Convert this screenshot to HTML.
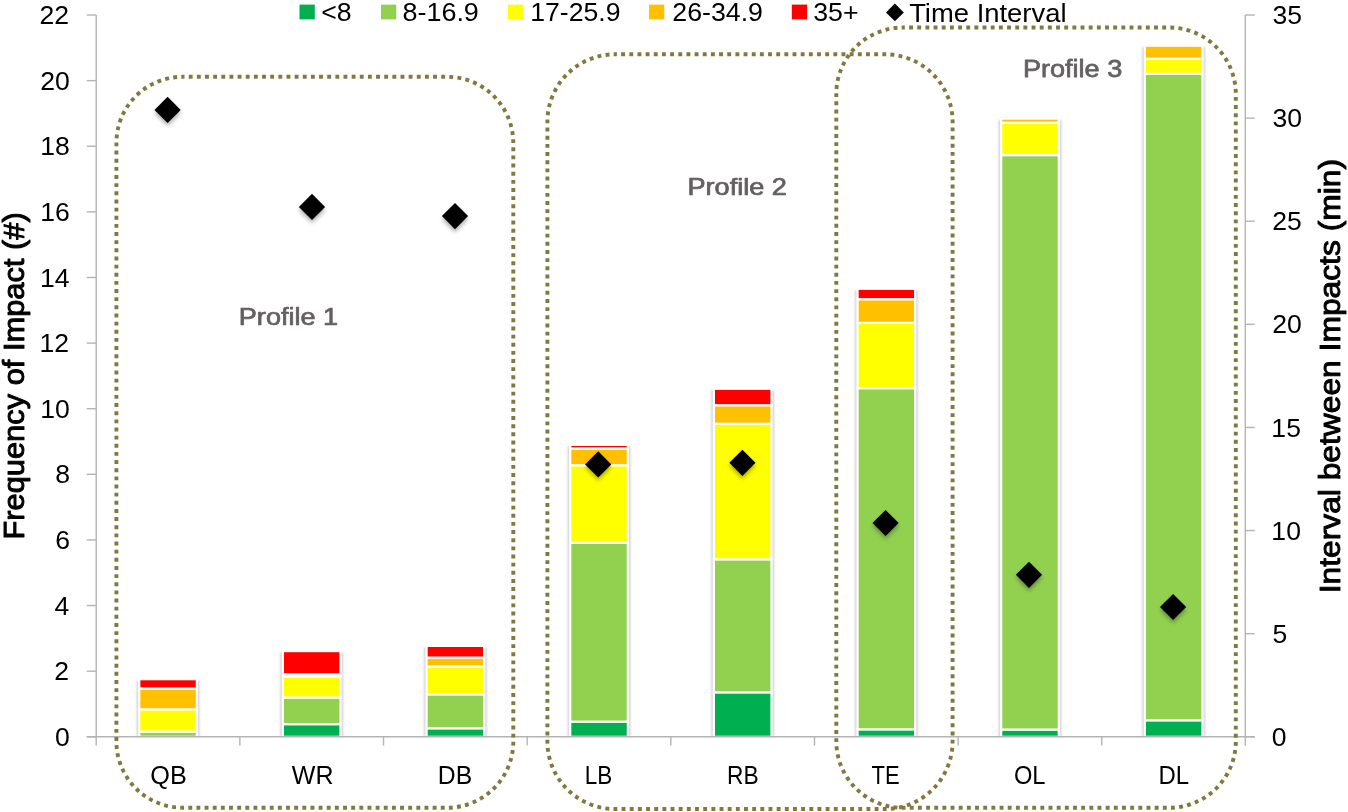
<!DOCTYPE html>
<html><head><meta charset="utf-8"><title>Impact frequency chart</title>
<style>
html,body{margin:0;padding:0;background:#fff;}
body{width:1348px;height:812px;overflow:hidden;}
svg{display:block;font-family:"Liberation Sans", sans-serif;will-change:transform;}
</style></head><body>
<svg width="1348" height="812" viewBox="0 0 1348 812">
<defs>
<filter id="dsh" x="-50%" y="-50%" width="200%" height="200%">
<feGaussianBlur in="SourceAlpha" stdDeviation="2.2"/>
<feOffset dx="0.4" dy="3.2" result="b"/>
<feComponentTransfer><feFuncA type="linear" slope="0.32"/></feComponentTransfer>
<feMerge><feMergeNode/><feMergeNode in="SourceGraphic"/></feMerge>
</filter>
<filter id="bsh" x="-20%" y="-5%" width="140%" height="110%">
<feGaussianBlur stdDeviation="0.8"/>
</filter>
<filter id="soft" x="-5%" y="-5%" width="110%" height="110%">
<feGaussianBlur stdDeviation="0.45"/>
</filter>
</defs>
<rect width="1348" height="812" fill="#fff"/>

<rect x="136.65" y="680.40" width="62.80" height="56.40" fill="#D3D3D6" filter="url(#bsh)"/>
<rect x="139.25" y="731.65" width="57.60" height="5.15" fill="#92D050" stroke="#fff" stroke-width="2.2"/>
<rect x="139.25" y="709.35" width="57.60" height="22.30" fill="#FFFF00" stroke="#fff" stroke-width="2.2"/>
<rect x="139.25" y="688.50" width="57.60" height="20.85" fill="#FFC000" stroke="#fff" stroke-width="2.2"/>
<rect x="139.25" y="679.20" width="57.60" height="9.30" fill="#FF0000" stroke="#fff" stroke-width="2.2"/>
<rect x="280.31" y="652.30" width="62.80" height="84.50" fill="#D3D3D6" filter="url(#bsh)"/>
<rect x="282.91" y="724.15" width="57.60" height="12.65" fill="#00B050" stroke="#fff" stroke-width="2.2"/>
<rect x="282.91" y="697.55" width="57.60" height="26.60" fill="#92D050" stroke="#fff" stroke-width="2.2"/>
<rect x="282.91" y="676.50" width="57.60" height="21.05" fill="#FFFF00" stroke="#fff" stroke-width="2.2"/>
<rect x="282.91" y="674.30" width="57.60" height="2.20" fill="#FFC000" stroke="#fff" stroke-width="2.2"/>
<rect x="282.91" y="651.10" width="57.60" height="23.20" fill="#FF0000" stroke="#fff" stroke-width="2.2"/>
<rect x="423.97" y="647.10" width="62.80" height="89.70" fill="#D3D3D6" filter="url(#bsh)"/>
<rect x="426.57" y="728.30" width="57.60" height="8.50" fill="#00B050" stroke="#fff" stroke-width="2.2"/>
<rect x="426.57" y="694.35" width="57.60" height="33.95" fill="#92D050" stroke="#fff" stroke-width="2.2"/>
<rect x="426.57" y="666.40" width="57.60" height="27.95" fill="#FFFF00" stroke="#fff" stroke-width="2.2"/>
<rect x="426.57" y="657.60" width="57.60" height="8.80" fill="#FFC000" stroke="#fff" stroke-width="2.2"/>
<rect x="426.57" y="645.90" width="57.60" height="11.70" fill="#FF0000" stroke="#fff" stroke-width="2.2"/>
<rect x="567.63" y="446.10" width="62.80" height="290.70" fill="#D3D3D6" filter="url(#bsh)"/>
<rect x="570.23" y="721.65" width="57.60" height="15.15" fill="#00B050" stroke="#fff" stroke-width="2.2"/>
<rect x="570.23" y="542.75" width="57.60" height="178.90" fill="#92D050" stroke="#fff" stroke-width="2.2"/>
<rect x="570.23" y="465.25" width="57.60" height="77.50" fill="#FFFF00" stroke="#fff" stroke-width="2.2"/>
<rect x="570.23" y="448.45" width="57.60" height="16.80" fill="#FFC000" stroke="#fff" stroke-width="2.2"/>
<rect x="570.23" y="444.90" width="57.60" height="3.50" fill="#FF0000" stroke="#fff" stroke-width="2.2"/>
<rect x="711.29" y="390.00" width="62.80" height="346.80" fill="#D3D3D6" filter="url(#bsh)"/>
<rect x="713.89" y="692.35" width="57.60" height="44.45" fill="#00B050" stroke="#fff" stroke-width="2.2"/>
<rect x="713.89" y="559.30" width="57.60" height="133.05" fill="#92D050" stroke="#fff" stroke-width="2.2"/>
<rect x="713.89" y="423.75" width="57.60" height="135.55" fill="#FFFF00" stroke="#fff" stroke-width="2.2"/>
<rect x="713.89" y="405.25" width="57.60" height="18.50" fill="#FFC000" stroke="#fff" stroke-width="2.2"/>
<rect x="713.89" y="388.80" width="57.60" height="16.45" fill="#FF0000" stroke="#fff" stroke-width="2.2"/>
<rect x="854.95" y="290.00" width="62.80" height="446.80" fill="#D3D3D6" filter="url(#bsh)"/>
<rect x="857.55" y="729.35" width="57.60" height="7.45" fill="#00B050" stroke="#fff" stroke-width="2.2"/>
<rect x="857.55" y="388.15" width="57.60" height="341.20" fill="#92D050" stroke="#fff" stroke-width="2.2"/>
<rect x="857.55" y="322.90" width="57.60" height="65.25" fill="#FFFF00" stroke="#fff" stroke-width="2.2"/>
<rect x="857.55" y="299.20" width="57.60" height="23.70" fill="#FFC000" stroke="#fff" stroke-width="2.2"/>
<rect x="857.55" y="288.80" width="57.60" height="10.40" fill="#FF0000" stroke="#fff" stroke-width="2.2"/>
<rect x="998.61" y="119.80" width="62.80" height="617.00" fill="#D3D3D6" filter="url(#bsh)"/>
<rect x="1001.21" y="729.55" width="57.60" height="7.25" fill="#00B050" stroke="#fff" stroke-width="2.2"/>
<rect x="1001.21" y="155.10" width="57.60" height="574.45" fill="#92D050" stroke="#fff" stroke-width="2.2"/>
<rect x="1001.21" y="122.70" width="57.60" height="32.40" fill="#FFFF00" stroke="#fff" stroke-width="2.2"/>
<rect x="1001.21" y="118.60" width="57.60" height="4.10" fill="#FFC000" stroke="#fff" stroke-width="2.2"/>
<rect x="1142.27" y="46.90" width="62.80" height="689.90" fill="#D3D3D6" filter="url(#bsh)"/>
<rect x="1144.87" y="720.30" width="57.60" height="16.50" fill="#00B050" stroke="#fff" stroke-width="2.2"/>
<rect x="1144.87" y="73.85" width="57.60" height="646.45" fill="#92D050" stroke="#fff" stroke-width="2.2"/>
<rect x="1144.87" y="58.80" width="57.60" height="15.05" fill="#FFFF00" stroke="#fff" stroke-width="2.2"/>
<rect x="1144.87" y="45.70" width="57.60" height="13.10" fill="#FFC000" stroke="#fff" stroke-width="2.2"/>
<g stroke="#B4B4B4" stroke-width="1.4" fill="none">
<line x1="96.2" y1="15.0" x2="96.2" y2="745.5999999999999"/>
<line x1="1245.3" y1="15.0" x2="1245.3" y2="745.5999999999999"/>
<line x1="86.7" y1="736.8" x2="1254.8" y2="736.8"/>
<line x1="86.7" y1="736.80" x2="96.2" y2="736.80"/>
<line x1="86.7" y1="671.18" x2="96.2" y2="671.18"/>
<line x1="86.7" y1="605.56" x2="96.2" y2="605.56"/>
<line x1="86.7" y1="539.95" x2="96.2" y2="539.95"/>
<line x1="86.7" y1="474.33" x2="96.2" y2="474.33"/>
<line x1="86.7" y1="408.71" x2="96.2" y2="408.71"/>
<line x1="86.7" y1="343.09" x2="96.2" y2="343.09"/>
<line x1="86.7" y1="277.47" x2="96.2" y2="277.47"/>
<line x1="86.7" y1="211.85" x2="96.2" y2="211.85"/>
<line x1="86.7" y1="146.24" x2="96.2" y2="146.24"/>
<line x1="86.7" y1="80.62" x2="96.2" y2="80.62"/>
<line x1="86.7" y1="15.00" x2="96.2" y2="15.00"/>
<line x1="1245.3" y1="736.80" x2="1254.8" y2="736.80"/>
<line x1="1245.3" y1="633.69" x2="1254.8" y2="633.69"/>
<line x1="1245.3" y1="530.57" x2="1254.8" y2="530.57"/>
<line x1="1245.3" y1="427.46" x2="1254.8" y2="427.46"/>
<line x1="1245.3" y1="324.34" x2="1254.8" y2="324.34"/>
<line x1="1245.3" y1="221.23" x2="1254.8" y2="221.23"/>
<line x1="1245.3" y1="118.11" x2="1254.8" y2="118.11"/>
<line x1="1245.3" y1="15.00" x2="1254.8" y2="15.00"/>
<line x1="239.86" y1="736.8" x2="239.86" y2="745.5999999999999"/>
<line x1="383.52" y1="736.8" x2="383.52" y2="745.5999999999999"/>
<line x1="527.18" y1="736.8" x2="527.18" y2="745.5999999999999"/>
<line x1="670.84" y1="736.8" x2="670.84" y2="745.5999999999999"/>
<line x1="814.50" y1="736.8" x2="814.50" y2="745.5999999999999"/>
<line x1="958.16" y1="736.8" x2="958.16" y2="745.5999999999999"/>
<line x1="1101.82" y1="736.8" x2="1101.82" y2="745.5999999999999"/>
</g>
<g fill="#000" filter="url(#dsh)">
<path d="M167.60 96.80L180.70 109.90L167.60 123.00L154.50 109.90Z"/>
<path d="M312.00 193.80L325.10 206.90L312.00 220.00L298.90 206.90Z"/>
<path d="M455.00 203.00L468.10 216.10L455.00 229.20L441.90 216.10Z"/>
<path d="M598.20 451.30L611.30 464.40L598.20 477.50L585.10 464.40Z"/>
<path d="M742.40 449.70L755.50 462.80L742.40 475.90L729.30 462.80Z"/>
<path d="M885.60 509.90L898.70 523.00L885.60 536.10L872.50 523.00Z"/>
<path d="M1029.00 561.70L1042.10 574.80L1029.00 587.90L1015.90 574.80Z"/>
<path d="M1173.10 593.90L1186.20 607.00L1173.10 620.10L1160.00 607.00Z"/>
</g>
<g fill="none" stroke="#837940" stroke-width="3.9" filter="url(#soft)">
<rect x="116.4" y="76.8" width="396.90" height="730.90" rx="66.15" ry="66.15" stroke-dasharray="3.9 4.2446" stroke-dashoffset="1.95"/>
<rect x="547.4" y="54.3" width="405.20" height="754.70" rx="67.53" ry="67.53" stroke-dasharray="3.9 4.2624" stroke-dashoffset="1.95"/>
<rect x="836.3" y="27.5" width="399.50" height="780.30" rx="66.58" ry="66.58" stroke-dasharray="3.9 4.2647" stroke-dashoffset="1.95"/>
</g>
<g>
<text x="54.88" y="745.90" font-size="26.57">0</text>
<text x="54.20" y="680.28" font-size="26.57">2</text>
<text x="54.62" y="614.66" font-size="26.57">4</text>
<text x="55.15" y="549.05" font-size="26.57">6</text>
<text x="55.15" y="483.43" font-size="26.57">8</text>
<text x="40.27" y="417.81" font-size="26.57">10</text>
<text x="39.58" y="352.19" font-size="26.57">12</text>
<text x="40.00" y="286.57" font-size="26.57">14</text>
<text x="40.27" y="220.95" font-size="26.57">16</text>
<text x="40.27" y="155.34" font-size="26.57">18</text>
<text x="40.27" y="89.72" font-size="26.57">20</text>
<text x="39.58" y="24.10" font-size="26.57">22</text>
<text x="1271.84" y="745.90" font-size="26.57">0</text>
<text x="1272.44" y="642.79" font-size="26.57">5</text>
<text x="1271.37" y="539.67" font-size="26.57">10</text>
<text x="1271.37" y="436.56" font-size="26.57">15</text>
<text x="1272.17" y="333.44" font-size="26.57">20</text>
<text x="1272.17" y="230.33" font-size="26.57">25</text>
<text x="1272.44" y="127.21" font-size="26.57">30</text>
<text x="1272.44" y="24.10" font-size="26.57">35</text>
</g>
<text transform="translate(150.34 784.40) scale(0.9644 1)" font-size="26.23" fill="#000">QB</text>
<text transform="translate(291.75 784.40) scale(0.9554 1)" font-size="26.23" fill="#000">WR</text>
<text transform="translate(437.82 784.40) scale(0.9440 1)" font-size="26.23" fill="#000">DB</text>
<text transform="translate(584.70 784.40) scale(0.8569 1)" font-size="26.23" fill="#000">LB</text>
<text transform="translate(726.98 784.40) scale(0.8683 1)" font-size="26.23" fill="#000">RB</text>
<text transform="translate(871.46 784.40) scale(0.8380 1)" font-size="26.23" fill="#000">TE</text>
<text transform="translate(1013.92 784.40) scale(0.9027 1)" font-size="26.23" fill="#000">OL</text>
<text transform="translate(1158.39 784.40) scale(0.9123 1)" font-size="26.23" fill="#000">DL</text>
<text transform="translate(238.81 324.90) scale(1.1038 1)" font-size="24.53" stroke="#645F60" stroke-width="0.75" stroke-linejoin="round" fill="#645F60">Profile 1</text>
<text transform="translate(687.50 194.90) scale(1.0997 1)" font-size="24.67" stroke="#645F60" stroke-width="0.75" stroke-linejoin="round" fill="#645F60">Profile 2</text>
<text transform="translate(1022.91 77.20) scale(1.0910 1)" font-size="24.82" stroke="#645F60" stroke-width="0.75" stroke-linejoin="round" fill="#645F60">Profile 3</text>
<text transform="translate(24.20 539.59) rotate(-90) scale(1.0501 1)" font-size="29.38" stroke="#000" stroke-width="0.95" stroke-linejoin="round" fill="#000">Frequency of Impact (#)</text>
<text transform="translate(1339.90 593.29) rotate(-90) scale(1.0788 1)" font-size="29.46" stroke="#000" stroke-width="0.95" stroke-linejoin="round" fill="#000">Interval between Impacts (min)</text>
<rect x="299.5" y="4.6" width="15.3" height="14.8" fill="#00B050"/>
<text transform="translate(321.27 21.30) scale(1.0428 1)" font-size="25.57" fill="#000">&lt;8</text>
<rect x="381.0" y="4.6" width="15.3" height="14.8" fill="#92D050"/>
<text transform="translate(402.42 21.30) scale(1.0552 1)" font-size="25.57" fill="#000">8-16.9</text>
<rect x="507.8" y="4.6" width="15.3" height="14.8" fill="#FFFF00"/>
<text transform="translate(530.17 21.30) scale(1.0412 1)" font-size="25.57" fill="#000">17-25.9</text>
<rect x="649.0" y="4.6" width="15.3" height="14.8" fill="#FFC000"/>
<text transform="translate(672.26 21.30) scale(1.0460 1)" font-size="25.57" fill="#000">26-34.9</text>
<rect x="791.8" y="4.6" width="15.3" height="14.8" fill="#FF0000"/>
<text transform="translate(813.23 21.30) scale(1.0444 1)" font-size="25.57" fill="#000">35+</text>
<path d="M894.9 3.6L903.8 12.4L894.9 21.2L886 12.4Z" fill="#000"/>
<text transform="translate(909.15 21.50) scale(1.0396 1)" font-size="26.38" fill="#000">Time Interval</text>
</svg>
</body></html>
